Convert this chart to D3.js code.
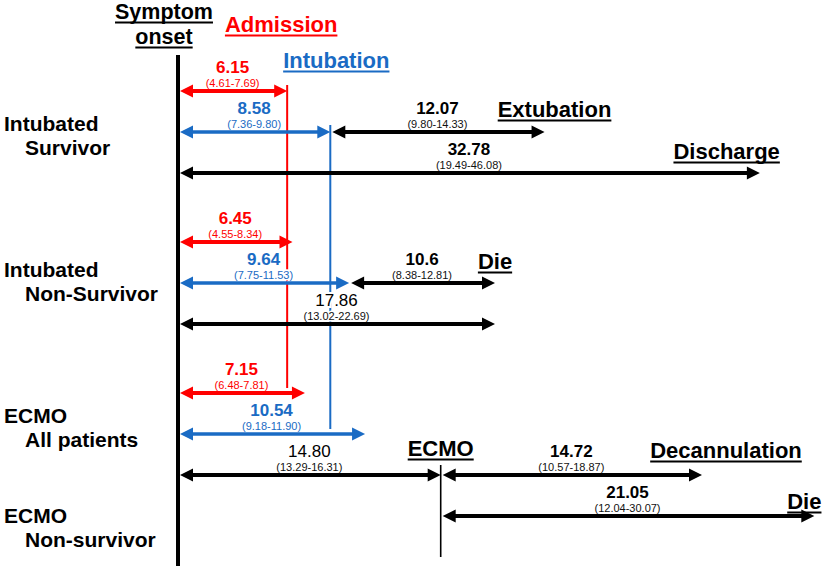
<!DOCTYPE html>
<html><head><meta charset="utf-8">
<script src="https://cdn.jsdelivr.net/npm/d3@7"></script>
<style>html,body{margin:0;padding:0;background:#fff}svg{display:block}</style>
</head><body>
<svg id="chart" width="829" height="571"></svg>
<script>
// ---------- DATA ----------
const groupLabels = [["Intubated", "Survivor"], ["Intubated", "Non-Survivor"], ["ECMO", "All patients"], ["ECMO", "Non-survivor"]];
const arrowMedian = ["6.15", "8.58", "12.07", "32.78", "6.45", "9.64", "10.6", "17.86", "7.15", "10.54", "14.80", "14.72", "21.05"];
const arrowCI = ["(4.61-7.69)", "(7.36-9.80)", "(9.80-14.33)", "(19.49-46.08)", "(4.55-8.34)", "(7.75-11.53)", "(8.38-12.81)", "(13.02-22.69)", "(6.48-7.81)", "(9.18-11.90)", "(13.29-16.31)", "(10.57-18.87)", "(12.04-30.07)"];
// days from symptom onset where each arrow starts / ends
const arrowFrom = [0, 0, 8.58, 0, 0, 0, 9.64, 0, 0, 0, 0, 14.80, 14.80];
const arrowTo = [6.15, 8.58, 20.65, 32.78, 6.45, 9.64, 17.86, 17.86, 7.15, 10.54, 14.80, 29.52, 35.85];
const arrowKind = ["adm", "intub", "stage", "stage", "adm", "intub", "stage", "stage", "adm", "intub", "stage", "stage", "stage"];
const arrowGroup = [0, 0, 0, 0, 1, 1, 1, 1, 2, 2, 2, 2, 3];
const arrowLane = [0, 1, 1, 2, 3, 4, 4, 5, 6, 7, 8, 8, 9];
const eventNames = ["Extubation", "Discharge", "Die", "ECMO", "Decannulation", "Die"];
const eventArrow = [2, 3, 6, 10, 11, 12];
const headerOnset = ["Symptom", "onset"];
const headerAdmission = "Admission";
const headerIntubation = "Intubation";

// ---------- LAYOUT / STYLE ----------
const W = 829, H = 571;
const FONT = "Arial, 'Liberation Sans', Helvetica, sans-serif";
const colors = { adm: "#ff0000", intub: "#1a6bc4", stage: "#000000" };
const arrowWidth = { adm: 4, intub: 3.5, stage: 4 };
const groupGap = [0, 1, 2, 2];
const regularValue = new Set([7, 10]);
const rowLabelY = [131, 277, 423, 523];
const eventStyle = [
  { anchor: "middle", dx: 10, dy: -15 },
  { anchor: "end", dx: 20, dy: -14 },
  { anchor: "middle", dx: 0, dy: -14 },
  { anchor: "middle", dx: 0, dy: -19 },
  { anchor: "middle", dx: 24, dy: -17 },
  { anchor: "middle", dx: -10, dy: -7 }
];

const x = d3.scaleLinear().domain([0, 36]).range([178, 178 + 36 * 17.75]);
const laneY = d3.scaleLinear().domain([0, 9]).range([91, 91 + 9 * 41]);
const yOf = i => laneY(arrowLane[i]) + groupGap[arrowGroup[i]] * 28;

const svg = d3.select("#chart");
const gLines = svg.append("g");
const gText = svg.append("g");
const gArrows = svg.append("g");

// ---------- vertical reference lines ----------
gLines.append("line").attr("x1", x(0)).attr("x2", x(0)).attr("y1", 55).attr("y2", 566)
  .attr("stroke", "#000").attr("stroke-width", 4);
gLines.append("line").attr("x1", x(arrowTo[0])).attr("x2", x(arrowTo[0]))
  .attr("y1", yOf(0) - 6).attr("y2", yOf(8) - 5)
  .attr("stroke", colors.adm).attr("stroke-width", 2);
gLines.append("line").attr("x1", x(arrowTo[1])).attr("x2", x(arrowTo[1]))
  .attr("y1", yOf(1) - 7).attr("y2", yOf(9) - 5)
  .attr("stroke", colors.intub).attr("stroke-width", 2);
gLines.append("line").attr("x1", x(arrowTo[10])).attr("x2", x(arrowTo[10]))
  .attr("y1", yOf(10) - 10).attr("y2", yOf(12) + 41)
  .attr("stroke", "#000").attr("stroke-width", 1.6);

// ---------- helper: underlined text ----------
function underlined(g, txt, px, py, anchor, size, color) {
  const t = g.append("text").attr("x", px).attr("y", py).attr("text-anchor", anchor)
    .attr("font-family", FONT).attr("font-size", size).attr("font-weight", "bold")
    .attr("fill", color).text(txt);
  const w = t.node().getComputedTextLength();
  const x0 = anchor === "middle" ? px - w / 2 : anchor === "end" ? px - w : px;
  g.append("line").attr("x1", x0).attr("x2", x0 + w).attr("y1", py + 3.5).attr("y2", py + 3.5)
    .attr("stroke", color).attr("stroke-width", 2);
}

// ---------- headers ----------
underlined(gText, headerOnset[0], x(0) - 14, 19, "middle", 21.5, "#000");
underlined(gText, headerOnset[1], x(0) - 14, 44, "middle", 21.5, "#000");
underlined(gText, headerAdmission, x(arrowTo[0]) - 6, 32, "middle", 22, colors.adm);
underlined(gText, headerIntubation, x(arrowTo[1]) + 6, 68, "middle", 22, colors.intub);

// ---------- row labels ----------
groupLabels.forEach((lines, gi) => {
  lines.forEach((ln, li) => {
    gText.append("text").attr("x", li === 0 ? 4 : 25).attr("y", rowLabelY[gi] + li * 24)
      .attr("font-family", FONT).attr("font-size", 21).attr("font-weight", "bold")
      .attr("fill", "#000").text(ln);
  });
});

// ---------- values & CIs ----------
arrowMedian.forEach((v, i) => {
  const cx = (x(arrowFrom[i]) + x(arrowTo[i])) / 2;
  const y = yOf(i);
  const col = colors[arrowKind[i]];
  gText.append("text").attr("x", cx).attr("y", y - 18).attr("text-anchor", "middle")
    .attr("font-family", FONT).attr("font-size", 17)
    .attr("font-weight", regularValue.has(i) ? "normal" : "bold")
    .attr("fill", col).attr("stroke", "#fff").attr("stroke-width", 4)
    .attr("paint-order", "stroke").text(v);
  gText.append("text").attr("x", cx).attr("y", y - 4).attr("text-anchor", "middle")
    .attr("font-family", FONT).attr("font-size", 11)
    .attr("fill", arrowKind[i] === "stage" ? "#111" : col)
    .attr("stroke", "#fff").attr("stroke-width", 3).attr("paint-order", "stroke").text(arrowCI[i]);
});

// ---------- event labels ----------
eventNames.forEach((nm, k) => {
  const i = eventArrow[k];
  const st = eventStyle[k];
  underlined(gText, nm, x(arrowTo[i]) + st.dx, yOf(i) + st.dy, st.anchor, 22, "#000");
});

// ---------- arrows ----------
const HL = 13, HW = 6.5;
arrowMedian.forEach((v, i) => {
  const xl = x(arrowFrom[i]) + 2, xr = x(arrowTo[i]);
  const y = yOf(i);
  const col = colors[arrowKind[i]];
  const g = gArrows.append("g");
  g.append("line").attr("x1", xl + HL - 1).attr("x2", xr - HL + 1).attr("y1", y).attr("y2", y)
    .attr("stroke", col).attr("stroke-width", arrowWidth[arrowKind[i]]);
  g.append("path").attr("d", `M${xl},${y}L${xl + HL},${y - HW}L${xl + HL},${y + HW}Z`).attr("fill", col);
  g.append("path").attr("d", `M${xr},${y}L${xr - HL},${y - HW}L${xr - HL},${y + HW}Z`).attr("fill", col);
});
</script>
</body></html>
